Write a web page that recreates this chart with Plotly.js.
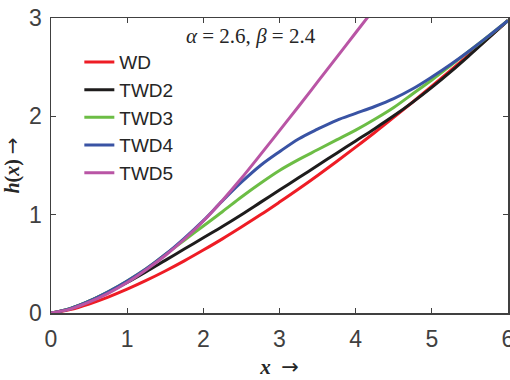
<!DOCTYPE html>
<html>
<head>
<meta charset="utf-8">
<script src="https://cdn.plot.ly/plotly-3.0.1.min.js"></script>
<style>html,body{margin:0;padding:0;background:#fff;}#chart{width:510px;height:380px;}</style>
</head>
<body>
<div id="chart"></div>
<script>
var xs = [0,0.25,0.5,0.75,1,1.25,1.5,1.75,2,2.25,2.5,2.75,3,3.25,3.5,3.75,4,4.25,4.5,4.75,5,5.25,5.5,5.75,6];
var WD   = [0,0.035,0.092,0.162,0.242,0.331,0.427,0.530,0.640,0.754,0.874,0.998,1.128,1.261,1.399,1.541,1.687,1.836,1.990,2.146,2.306,2.469,2.635,2.804,2.975];
var TWD2 = [0,0.045,0.12,0.21,0.31,0.42,0.535,0.65,0.765,0.88,1.0,1.125,1.25,1.375,1.50,1.625,1.75,1.875,2.005,2.145,2.295,2.455,2.625,2.80,2.975];
var TWD3 = [0,0.045,0.12,0.215,0.325,0.45,0.595,0.74,0.885,1.03,1.18,1.32,1.45,1.56,1.66,1.76,1.86,1.97,2.09,2.23,2.37,2.52,2.67,2.82,2.975];
var TWD4 = [0,0.045,0.12,0.215,0.325,0.45,0.595,0.76,0.94,1.14,1.33,1.50,1.64,1.77,1.87,1.96,2.03,2.10,2.18,2.28,2.40,2.53,2.67,2.82,2.975];
var TWD5 = [0,0.04,0.11,0.2,0.31,0.44,0.585,0.75,0.935,1.145,1.37,1.61,1.855,2.10,2.35,2.60,2.85,3.10];
var names = ['WD','TWD2','TWD3','TWD4','TWD5'];
var series = [WD, TWD2, TWD3, TWD4, TWD5];
var colors = ['#ee1c25','#1e1c1c','#6cbd45','#3953a4','#b955a5'];
var xTicks = [0,1,2,3,4,5,6];
var yTicks = [0,1,2,3];

var traces = series.map(function(s, i){
  return {
    x: xs.slice(0, s.length), y: s, name: names[i], type: 'scatter', mode: 'lines',
    line: {color: colors[i], width: 3, shape: 'spline', smoothing: 1}
  };
});

var sans = '"Liberation Sans", Arial, Helvetica, sans-serif';
var serif = '"Liberation Serif", "Times New Roman", serif';
var arrow = '<span style="font-family:\'DejaVu Sans\';font-weight:normal;font-style:normal">→</span>';

var axisCommon = {
  showgrid: false, zeroline: false, showline: true, mirror: 'ticks',
  linecolor: '#404040', linewidth: 1.5, ticks: 'inside', ticklen: 5, tickwidth: 1.2,
  tickcolor: '#404040', ticklabeloverflow: 'allow',
  tickfont: {family: sans, size: 23, color: '#404040'}
};

var layout = {
  width: 510, height: 380,
  margin: {l: 51, r: 2, t: 18, b: 67},
  paper_bgcolor: '#fff', plot_bgcolor: '#fff',
  showlegend: true,
  legend: {x: 0.062, y: 0.915, xanchor: 'left', yanchor: 'top', bgcolor: 'rgba(0,0,0,0)', borderwidth: 0,
    font: {family: sans, size: 19, color: '#262626'}},
  xaxis: Object.assign({}, axisCommon, {range: [0, 6], tickvals: xTicks, ticklabelstandoff: 5,
    title: {text: '<b><i>x</i></b>  ' + arrow, standoff: 8, font: {family: serif, size: 21, color: '#262626'}}}),
  yaxis: Object.assign({}, axisCommon, {range: [0, 3], tickvals: yTicks, ticklabelstandoff: 3,
    title: {text: '<b><i>h</i>(<i>x</i>)</b> ' + arrow, standoff: 4, font: {family: serif, size: 20, color: '#262626'}}}),
  annotations: [{
    xref: 'paper', yref: 'paper', x: 0.291, y: 0.938, xanchor: 'left', yanchor: 'middle', showarrow: false,
    text: '<i>α</i> = 2.6, <i>β</i> = 2.4',
    font: {family: serif, size: 21, color: '#262626'}
  }]
};

Plotly.newPlot('chart', traces, layout, {displayModeBar: false, staticPlot: true});
</script>
</body>
</html>
